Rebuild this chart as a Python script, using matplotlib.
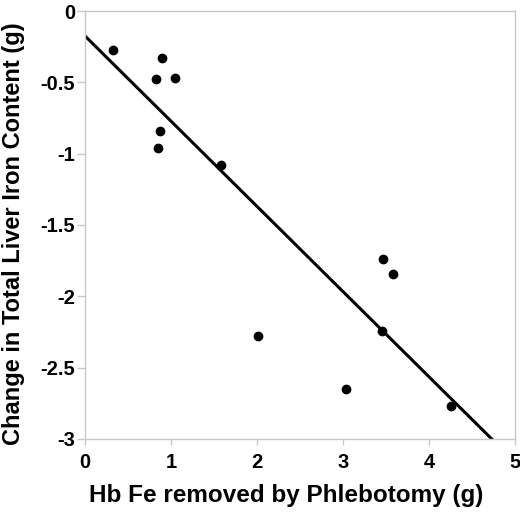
import numpy as np
import matplotlib
matplotlib.use("Agg")
import matplotlib.pyplot as plt

# Hb Fe removed (g) vs change in liver iron (g)
hb_fe_removed = [0.33, 0.90, 0.83, 1.05, 0.87, 0.85, 1.58, 2.01, 3.47, 3.58, 3.45, 3.04, 4.26]
liver_change = [-0.27, -0.33, -0.48, -0.47, -0.84, -0.96, -1.08, -2.28, -1.74, -1.84, -2.24, -2.65, -2.77]

# trend line
fit_intercept = -0.175
fit_slope = -0.597

xticks = [0, 1, 2, 3, 4, 5]
yticks = [0, -0.5, -1, -1.5, -2, -2.5, -3]
ytick_labels = ["0", "-0.5", "-1", "-1.5", "-2", "-2.5", "-3"]

plt.rcParams["font.family"] = ["Liberation Sans", "DejaVu Sans"]
plt.rcParams["font.weight"] = "bold"

fig = plt.figure(figsize=(5.2, 5.12), dpi=100)
ax = fig.add_axes([0.1635, 0.1426, 0.8265, 0.8359])

ax.plot(hb_fe_removed, liver_change, "o", color="black", markersize=6, zorder=3)

line_x = np.array([0, 5])
ax.plot(line_x, fit_intercept + fit_slope * line_x, color="black", linewidth=2.2)

ax.set_xlim(0, 5)
ax.set_ylim(-3, 0)
ax.set_xticks(xticks)
ax.set_yticks(yticks)
ax.set_yticklabels(ytick_labels)

for s in ax.spines.values():
    s.set_color("#c8c8c8")
    s.set_linewidth(1.0)
ax.tick_params(colors="#c8c8c8", labelcolor="black", labelsize=14.5, width=1)
ax.tick_params(axis="x", length=4, pad=6)
ax.tick_params(axis="y", length=6, pad=1)
for lab in ax.get_xticklabels() + ax.get_yticklabels():
    lab.set_fontweight("bold")

ax.set_xlabel("Hb Fe removed by Phlebotomy (g)", fontsize=17.5, fontweight="bold")
ax.set_ylabel("Change in Total Liver Iron Content (g)", fontsize=17, fontweight="bold")
ax.xaxis.set_label_coords(0.467, -0.105)
ax.yaxis.set_label_coords(-0.14, 0.479)

plt.savefig("out.png", dpi=100)
